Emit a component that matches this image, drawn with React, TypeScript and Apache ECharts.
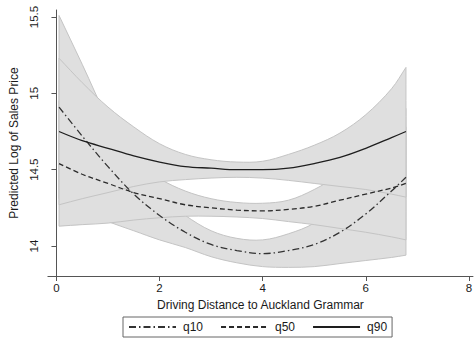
import React, { useEffect, useRef } from "react";
import * as echarts from "echarts";

// Driving distance grid
const xs = [0.05, 0.5, 1, 1.5, 2, 2.5, 3, 3.5, 4, 4.5, 5, 5.5, 6, 6.5, 6.78];

// Fitted quantile curves
const q10 = [14.91, 14.72, 14.52, 14.34, 14.2, 14.09, 14.01, 13.97, 13.95, 13.97, 14.01, 14.09, 14.21, 14.36, 14.45];
const q50 = [14.54, 14.47, 14.41, 14.35, 14.31, 14.27, 14.25, 14.235, 14.23, 14.24, 14.26, 14.3, 14.34, 14.38, 14.41];
const q90 = [14.75, 14.69, 14.64, 14.59, 14.55, 14.52, 14.51, 14.5, 14.5, 14.51, 14.54, 14.58, 14.64, 14.71, 14.75];

// Confidence bands
const lo10 = [14.31, 14.23, 14.16, 14.1, 14.04, 13.99, 13.93, 13.89, 13.865, 13.86, 13.865, 13.885, 13.905, 13.925, 13.94];
const hi10 = [15.51, 15.19, 14.83, 14.55, 14.33, 14.2, 14.1, 14.05, 14.04, 14.08, 14.15, 14.28, 14.47, 14.72, 14.9];
const lo50 = [14.13, 14.14, 14.15, 14.17, 14.185, 14.195, 14.195, 14.19, 14.18, 14.16, 14.14, 14.115, 14.09, 14.06, 14.04];
const hi50 = [14.95, 14.8, 14.67, 14.55, 14.44, 14.36, 14.31, 14.285, 14.28, 14.3, 14.37, 14.47, 14.59, 14.71, 14.78];
const lo90 = [14.27, 14.31, 14.35, 14.39, 14.42, 14.435, 14.445, 14.45, 14.445, 14.43, 14.41, 14.39, 14.37, 14.34, 14.32];
const hi90 = [15.23, 15.07, 14.91, 14.78, 14.67, 14.6, 14.565, 14.55, 14.555, 14.6, 14.66, 14.74, 14.86, 15.03, 15.17];

// Axis ticks
const xTicks = [0, 2, 4, 6, 8];
const yTicks = [14, 14.5, 15, 15.5];

const FONT = "'Liberation Sans', Arial, Helvetica, sans-serif";
const BAND_FILL = "#dfdfdf";
const BAND_EDGE = "#c4c4c4";

function bandSeries(id: string, lo: number[], hi: number[]) {
  return {
    name: id,
    type: "custom",
    silent: true,
    clip: true,
    data: [[xs[0], lo[0]]],
    encode: { x: 0, y: 1 },
    renderItem: (_params: any, api: any) => {
      const n = xs.length;
      const up = xs.map((x, i) => api.coord([x, hi[i]]));
      const dn = xs.map((x, i) => api.coord([x, lo[i]])).reverse();
      const points = [up[0], ...up, up[n - 1], dn[0], ...dn, dn[n - 1]];
      return {
        type: "polygon",
        shape: { points, smooth: 0.35 },
        style: { fill: BAND_FILL, stroke: BAND_EDGE, lineWidth: 1 },
        silent: true,
      };
    },
  };
}

function lineSeries(name: string, vals: number[], type: any, color: string) {
  return {
    name,
    type: "line",
    data: xs.map((x, i) => [x, vals[i]]),
    showSymbol: false,
    symbol: "none",
    smooth: 0.35,
    silent: true,
    lineStyle: { color, width: 1.3, type },
    itemStyle: { color },
    emphasis: { disabled: true },
  };
}

export default function App() {
  const ref = useRef<HTMLDivElement>(null);
  useEffect(() => {
    if (!ref.current) return;
    const chart = echarts.init(ref.current, undefined, { renderer: "svg" });
    chart.setOption({
      animation: false,
      backgroundColor: "#ffffff",
      textStyle: { fontFamily: FONT },
      grid: { left: 43, right: 0, top: 10, bottom: 69 },
      xAxis: {
        type: "value",
        min: -0.166,
        max: 8.08,
        name: "Driving Distance to Auckland Grammar",
        nameLocation: "middle",
        nameGap: 15,
        nameTextStyle: { fontSize: 12, color: "#1a1a1a", fontFamily: FONT },
        axisLine: { show: true, lineStyle: { color: "#555", width: 1 } },
        axisTick: { show: true, length: 5, customValues: xTicks, lineStyle: { color: "#555" } },
        axisLabel: {
          customValues: xTicks,
          margin: 6,
          fontSize: 11.5,
          color: "#1a1a1a",
          fontFamily: FONT,
        },
        splitLine: { show: false },
      },
      yAxis: {
        type: "value",
        min: 13.8035,
        max: 15.546,
        name: "Predicted Log of Sales Price",
        nameLocation: "middle",
        nameGap: 25,
        nameTextStyle: { fontSize: 12, color: "#1a1a1a", fontFamily: FONT },
        axisLine: { show: true, lineStyle: { color: "#555", width: 1 } },
        axisTick: { show: true, length: 5, customValues: yTicks, lineStyle: { color: "#555" } },
        axisLabel: {
          customValues: yTicks,
          rotate: 90,
          margin: 8,
          fontSize: 11.5,
          color: "#1a1a1a",
          fontFamily: FONT,
        },
        splitLine: { show: false },
      },
      legend: {
        data: ["q10", "q50", "q90"],
        left: 123,
        top: 317,
        orient: "horizontal",
        itemWidth: 47,
        itemHeight: 14,
        itemGap: 17,
        padding: [4, 5, 4, 5],
        borderColor: "#666",
        borderWidth: 1,
        itemStyle: { opacity: 0, borderWidth: 0 },
        textStyle: { fontSize: 12, color: "#1a1a1a", fontFamily: FONT, padding: [0, 0, 0, 2] },
      },
      series: [
        bandSeries("b10", lo10, hi10),
        bandSeries("b50", lo50, hi50),
        bandSeries("b90", lo90, hi90),
        lineSeries("q10", q10, [7, 3, 1.5, 3], "#333333"),
        lineSeries("q50", q50, [5, 3], "#2a2a2a"),
        lineSeries("q90", q90, "solid", "#1e1e1e"),
      ],
    });
    return () => chart.dispose();
  }, []);
  return <div ref={ref} style={{ width: 475, height: 345, position: "absolute", left: 0, top: 0 }} />;
}
